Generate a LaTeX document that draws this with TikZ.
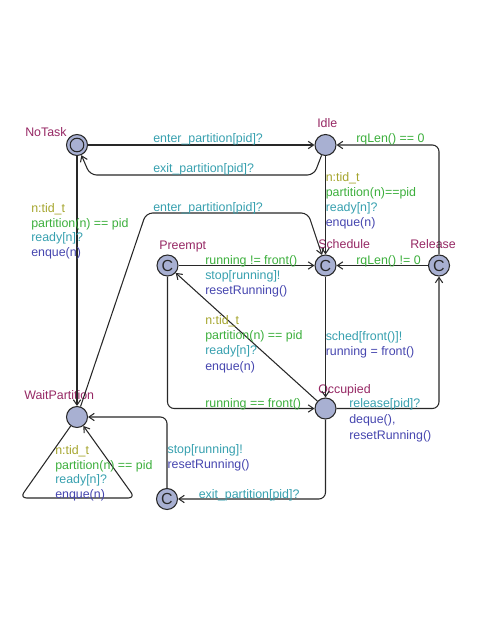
\documentclass[tikz,border=0pt]{standalone}
\usepackage{fontspec}
\setmainfont{Liberation Sans}
\usetikzlibrary{arrows.meta}
\definecolor{locname}{RGB}{150,40,100}
\definecolor{selc}{RGB}{165,165,45}
\definecolor{guardc}{RGB}{60,175,60}
\definecolor{syncc}{RGB}{55,160,175}
\definecolor{updc}{RGB}{70,70,175}
\definecolor{locfill}{RGB}{168,176,210}
\definecolor{linec}{RGB}{40,40,40}
\begin{document}
\begin{tikzpicture}[x=0.75pt,y=-0.75pt,
  loc/.style={circle,draw=linec,fill=locfill,line width=0.8pt,minimum size=15.75pt,inner sep=0pt},
  com/.style={loc,font=\fontsize{12}{12}\selectfont,text=linec},
  initloc/.style={loc,path picture={\draw[linec,line width=0.8pt] (path picture bounding box.center) circle (5.1pt);}},
  edge/.style={draw=linec,line width=0.8pt,-{Straight Barb[length=4pt,width=5.5pt]},rounded corners=5pt},
  lbl/.style={anchor=base west,inner sep=0pt,font=\fontsize{9.3}{11}\selectfont},
  nm/.style={lbl,text=locname},
  sel/.style={lbl,text=selc},
  grd/.style={lbl,text=guardc},
  syn/.style={lbl,text=syncc},
  upd/.style={lbl,text=updc}]
\useasboundingbox (0,0) rectangle (485,627);
% locations
\node[initloc] (NoTask) at (77,145) {};
\node[loc] (Idle) at (325.5,145) {};
\node[com] (Preempt) at (167.5,265.5) {C};
\node[com] (Schedule) at (325.5,265.5) {C};
\node[com] (Release) at (439,265.5) {C};
\node[loc] (Occupied) at (325.5,408.5) {};
\node[loc] (WaitPartition) at (77,417) {};
\node[com] (Cb) at (167,499) {C};
% names
\node[nm] (nNoTask) at (25,137) {NoTask};
\node[nm] (nIdle) at (317,128) {Idle};
\node[nm] (nPreempt) at (159,249) {Preempt};
\node[nm] (nSchedule) at (318,248.5) {Schedule};
\node[nm] (nRelease) at (410,248.5) {Release};
\node[nm] (nOccupied) at (318,393) {Occupied};
\node[nm] (nWait) at (24,399.5) {WaitPartition};
% nails
\coordinate (a1) at (314,175);
\coordinate (a2) at (90,175);
\coordinate (b1) at (146,213);
\coordinate (b2) at (308,213);
\coordinate (c1) at (20,498);
\coordinate (c2) at (135,498);
% edges
\draw[edge] (NoTask) -- (Idle);
\draw[edge] (Idle) -- (a1) -- (a2) -- (NoTask);
\draw[edge] (Idle) -- (Schedule);
\draw[edge] (Release) |- (Idle);
\draw[edge] (Release) -- (Schedule);
\draw[edge] (Preempt) -- (Schedule);
\draw[edge] (Schedule) -- (Occupied);
\draw[edge] (Occupied) -- (Preempt);
\draw[edge] (Preempt) |- (Occupied);
\draw[edge] (Occupied) -| (Release);
\draw[edge] (Occupied) |- (Cb);
\draw[edge] (Cb) |- (WaitPartition);
\draw[edge] (NoTask) -- (WaitPartition);
\draw[edge] (WaitPartition) -- (b1) -- (b2) -- (Schedule);
\draw[edge] (WaitPartition) -- (c1) -- (c2) -- (WaitPartition);
% labels
\node[syn] (l1) at (153,143) {enter\_partition[pid]?};
\node[syn] (l2) at (153,173) {exit\_partition[pid]?};
\node[syn] (l3) at (153,211) {enter\_partition[pid]?};
\node[grd] (l4) at (356,143) {rqLen() == 0};
\node[grd] (l5) at (356,264) {rqLen() != 0};
\node[sel] (l6a) at (325.5,181) {n:tid\_t};
\node[grd] (l6b) at (325.5,196.3) {partition(n)==pid};
\node[syn] (l6c) at (325.5,211.6) {ready[n]?};
\node[upd] (l6d) at (325.5,226.9) {enque(n)};
\node[grd] (l7a) at (205,264) {running != front()};
\node[syn] (l7b) at (205,279.3) {stop[running]!};
\node[upd] (l7c) at (205,294.5) {resetRunning()};
\node[sel] (l8a) at (205,324) {n:tid\_t};
\node[grd] (l8b) at (205,339.5) {partition(n) == pid};
\node[syn] (l8c) at (205,354.8) {ready[n]?};
\node[upd] (l8d) at (205,370) {enque(n)};
\node[syn] (l9a) at (325.5,340) {sched[front()]!};
\node[upd] (l9b) at (325.5,355.3) {running = front()};
\node[grd] (l10) at (205,407.3) {running == front()};
\node[syn] (l11a) at (349,407.3) {release[pid]?};
\node[upd] (l11b) at (349,423) {deque(),};
\node[upd] (l11c) at (349,439) {resetRunning()};
\node[syn] (l12) at (198.5,498) {exit\_partition[pid]?};
\node[syn] (l13a) at (167.3,453.3) {stop[running]!};
\node[upd] (l13b) at (167.3,468) {resetRunning()};
\node[sel] (l14a) at (31,212.7) {n:tid\_t};
\node[grd] (l14b) at (31,227.2) {partition(n) == pid};
\node[syn] (l14c) at (31,241.7) {ready[n]?};
\node[upd] (l14d) at (31,256.2) {enque(n)};
\node[sel] (l15a) at (55,454.5) {n:tid\_t};
\node[grd] (l15b) at (55,469) {partition(n) == pid};
\node[syn] (l15c) at (55,483.5) {ready[n]?};
\node[upd] (l15d) at (55,498) {enque(n)};
\end{tikzpicture}
\end{document}
